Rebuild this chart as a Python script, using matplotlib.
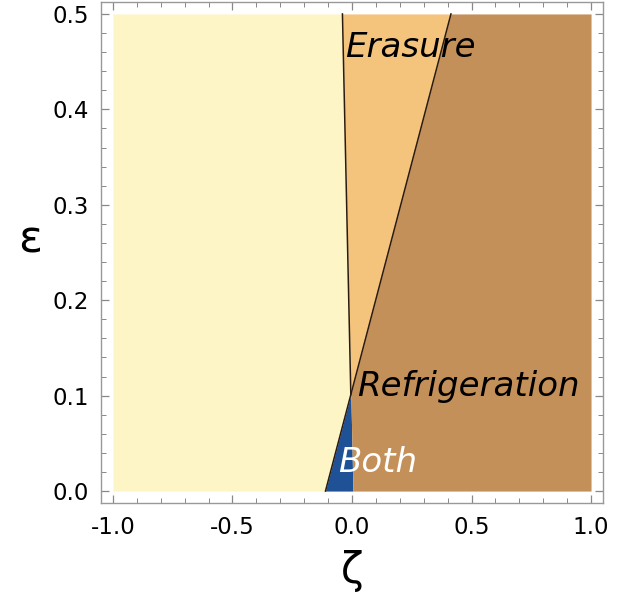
import numpy as np
import matplotlib
matplotlib.use("Agg")
import matplotlib.pyplot as plt
from matplotlib.ticker import MultipleLocator, FuncFormatter

# Boundary lines (zeta as function of eps)
eps_edge = [0.0, 0.5]
zeta_L1 = [0.004, -0.040]   # erasure boundary
zeta_L2 = [-0.111, 0.414]   # refrigeration boundary
zeta_range = [-1.0, 1.0]
eps_range = [0.0, 0.5]

c_none = "#FEF5C6"
c_erase = "#F4C47C"
c_refr = "#C4905A"
c_both = "#1F5196"

fig = plt.figure(figsize=(6.33, 5.99), dpi=100)
ax = fig.add_axes([101/633, 1-503/599, 502/633, 501/599])

eps = np.linspace(eps_range[0], eps_range[1], 2001)
l1 = np.interp(eps, eps_edge, zeta_L1)
l2 = np.interp(eps, eps_edge, zeta_L2)
lo = np.minimum(l1, l2)
hi = np.maximum(l1, l2)

kw = dict(linewidth=0, antialiased=False)
ax.fill_betweenx(eps, zeta_range[0], lo, color=c_none, **kw)
ax.fill_betweenx(eps, l1, l2, where=l1 <= l2, interpolate=True, color=c_erase, **kw)
ax.fill_betweenx(eps, l2, l1, where=l2 <= l1, interpolate=True, color=c_both, **kw)
ax.fill_betweenx(eps, hi, zeta_range[1], color=c_refr, **kw)

# crossing point
s1 = (zeta_L1[1]-zeta_L1[0])/(eps_edge[1]-eps_edge[0])
s2 = (zeta_L2[1]-zeta_L2[0])/(eps_edge[1]-eps_edge[0])
e_x = (zeta_L1[0]-zeta_L2[0])/(s2-s1)
z_x = zeta_L1[0] + s1*e_x

ax.plot(zeta_L2, eps_edge, color="#2a1a10", lw=1.1)
ax.plot([z_x, zeta_L1[1]], [e_x, eps_edge[1]], color="#2a1a10", lw=1.1)

ax.set_xlim(-1.05, 1.05)
ax.set_ylim(-0.0125, 0.5125)

ax.xaxis.set_major_locator(MultipleLocator(0.5))
ax.xaxis.set_minor_locator(MultipleLocator(0.1))
ax.yaxis.set_major_locator(MultipleLocator(0.1))
ax.yaxis.set_minor_locator(MultipleLocator(0.02))
ax.xaxis.set_major_formatter(FuncFormatter(lambda v, p: f"{v:.1f}"))
ax.yaxis.set_major_formatter(FuncFormatter(lambda v, p: f"{v:.1f}"))
ax.tick_params(which="both", direction="in", top=True, right=True, color="#888888")
ax.tick_params(which="major", length=6, width=0.9, labelsize=16.5, pad=9)
ax.tick_params(which="minor", length=3.5, width=0.7)
for sp in ax.spines.values():
    sp.set_color("#999999")
    sp.set_linewidth(1.0)

ax.set_xlabel("ζ", fontsize=30, va="center", ha="center")
ax.set_ylabel("ε", fontsize=32, rotation=0, va="center", ha="center")
ax.xaxis.set_label_coords(0.5, -0.135)
ax.yaxis.set_label_coords(-0.141, 0.525)

tk = dict(fontsize=24.5, style="italic", va="center", ha="left")
ax.text(-0.03, 0.465, "Erasure", color="black", **tk)
ax.text(0.022, 0.11, "Refrigeration", color="black", **tk)
ax.text(-0.06, 0.03, "Both", color="white", **tk)

fig.savefig("out.png", dpi=100)
